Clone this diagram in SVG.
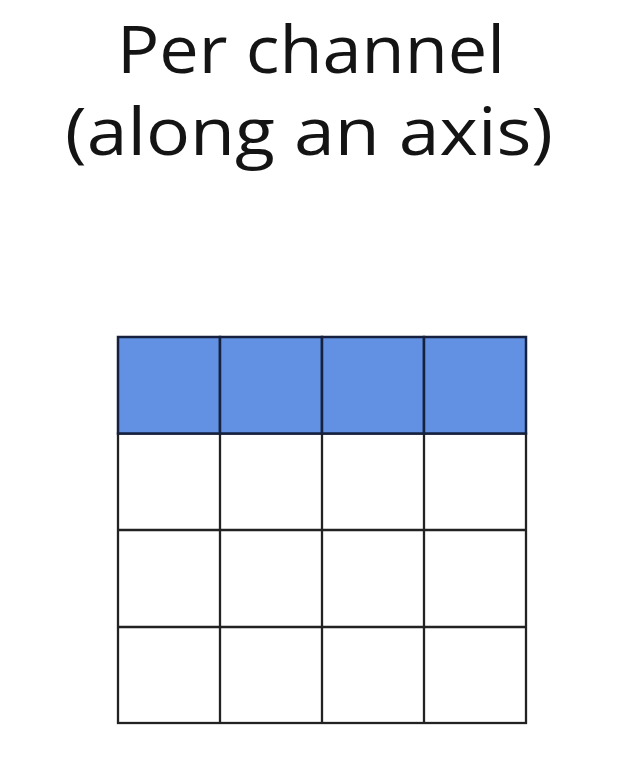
<svg xmlns="http://www.w3.org/2000/svg" width="618" height="766" viewBox="0 0 618 766">
<style>
.t{font-family:"Open Sans","Noto Sans","Liberation Sans",sans-serif;font-size:66px;fill:#141414;text-anchor:middle}
.cell{fill:#ffffff;stroke:#222222;stroke-width:2.3}
.hi{fill:#6290e3;stroke:#15213f;stroke-width:2.5}
</style>
<rect width="618" height="766" fill="#ffffff"/>
<g id="title">
<text class="t" x="311" y="73" textLength="388" lengthAdjust="spacingAndGlyphs">Per channel</text>
<text class="t" x="309" y="155" textLength="488" lengthAdjust="spacingAndGlyphs">(along an axis)</text>
</g>
<g id="grid">
<rect class="cell" x="118" y="433.5" width="408" height="289.5"/>
<g stroke="#222222" stroke-width="2.3">
<line x1="220" y1="433.5" x2="220" y2="723"/>
<line x1="322" y1="433.5" x2="322" y2="723"/>
<line x1="424" y1="433.5" x2="424" y2="723"/>
<line x1="118" y1="530" x2="526" y2="530"/>
<line x1="118" y1="627" x2="526" y2="627"/>
</g>
<g id="channel-row">
<rect class="hi" x="118" y="337" width="102" height="96.5"/>
<rect class="hi" x="220" y="337" width="102" height="96.5"/>
<rect class="hi" x="322" y="337" width="102" height="96.5"/>
<rect class="hi" x="424" y="337" width="102" height="96.5"/>
</g>
</g>
</svg>
